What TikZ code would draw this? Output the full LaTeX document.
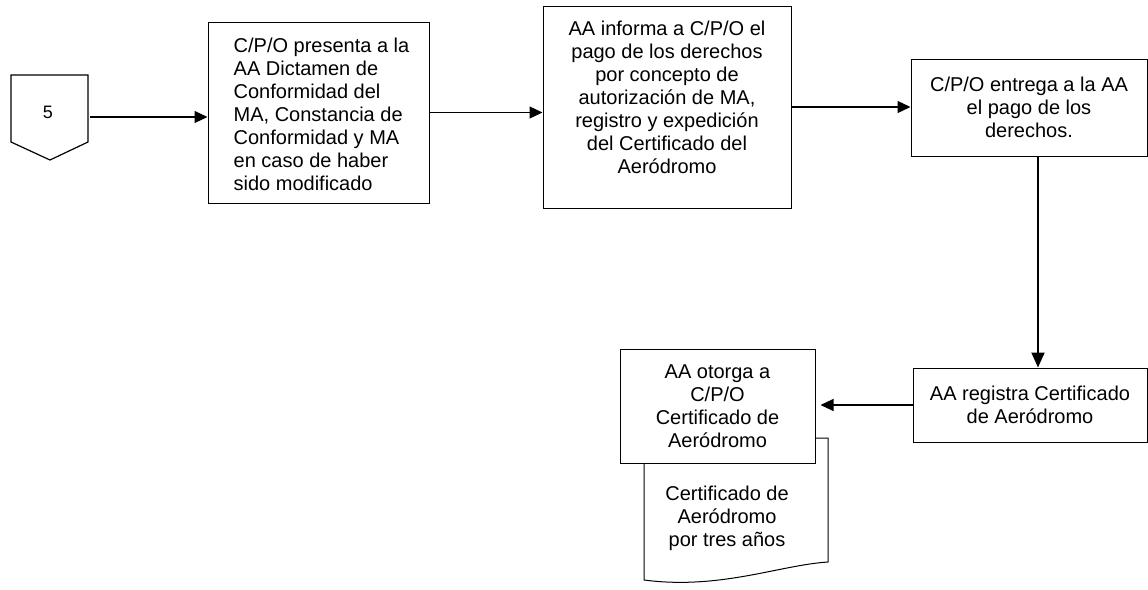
\documentclass[tikz,border=0pt]{standalone}
\usepackage{fontspec}
\setmainfont{Liberation Sans}
\usetikzlibrary{arrows.meta}
\begin{document}
\begin{tikzpicture}[x=1pt,y=-1pt,
  box/.style={draw, line width=1pt, fill=white, inner sep=0pt, font=\fontsize{20}{23}\selectfont, align=center},
  lbl/.style={inner sep=0pt, font=\fontsize{20}{23}\selectfont, align=center},
  arr/.style={line width=1.2pt, -{Triangle[length=13pt,width=12pt]}},
  varr/.style={line width=2pt, -{Triangle[length=15pt,width=13pt]}}]
\useasboundingbox (0,0) rectangle (1148,589);
\fill[white] (0,0) rectangle (1148,589);
% off-page connector
\draw[line width=1.2pt] (11,75) -- (88,75) -- (88,142) -- (50,160) -- (11,142) -- cycle;
\node[lbl, font=\fontsize{18}{20}\selectfont] (c5) at (48,112) {5};
\coordinate (c5out) at (90,117);
% boxes
\node[box, minimum width=221pt, minimum height=181pt] (b1) at (318.5,112.5) {};
\node[lbl, align=left] (b1t) at ([xshift=3pt,yshift=-2pt]b1.center)
  {C/P/O presenta a la\\AA Dictamen de\\Conformidad del\\MA, Constancia de\\Conformidad y MA\\en caso de haber\\sido modificado};
\node[box, minimum width=248pt, minimum height=202pt] (b2) at (667,107) {};
\node[lbl] (b2t) at ([yshift=10pt]b2.center)
  {AA informa a C/P/O el\\pago de los derechos\\por concepto de\\autorización de MA,\\registro y expedición\\del Certificado del\\Aeródromo};
\node[box, minimum width=236pt, minimum height=97pt] (b3) at (1029,107.5)
  {C/P/O entrega a la AA\\el pago de los\\derechos.};
\node[box, minimum width=234pt, minimum height=74pt] (b4) at (1030,405)
  {AA registra Certificado\\de Aeródromo};
% document
\draw[line width=1pt, fill=white] (815,438) -- (828,438) -- (828,562)
  .. controls (780,565) and (720,590) .. (644,580) -- (644,463);
\node[lbl] (doctxt) at (727,518) {Certificado de\\Aeródromo\\por tres años};
\node[box, minimum width=195pt, minimum height=114pt] (doc) at (717.5,406.5)
  {AA otorga a\\C/P/O\\Certificado de\\Aeródromo};
% connectors
\coordinate (vx) at (1038,0);
\draw[arr] (c5out) -- (c5out -| b1.west);
\draw[arr] (b1.east) -- (b1.east -| b2.west);
\draw[arr] (b2.east) -- (b2.east -| b3.west);
\draw[varr] (b3.south -| vx) -- (b4.north -| vx);
\draw[arr, shorten >=5pt] (b4.west) -- (b4.west -| doc.east);
\end{tikzpicture}
\end{document}
